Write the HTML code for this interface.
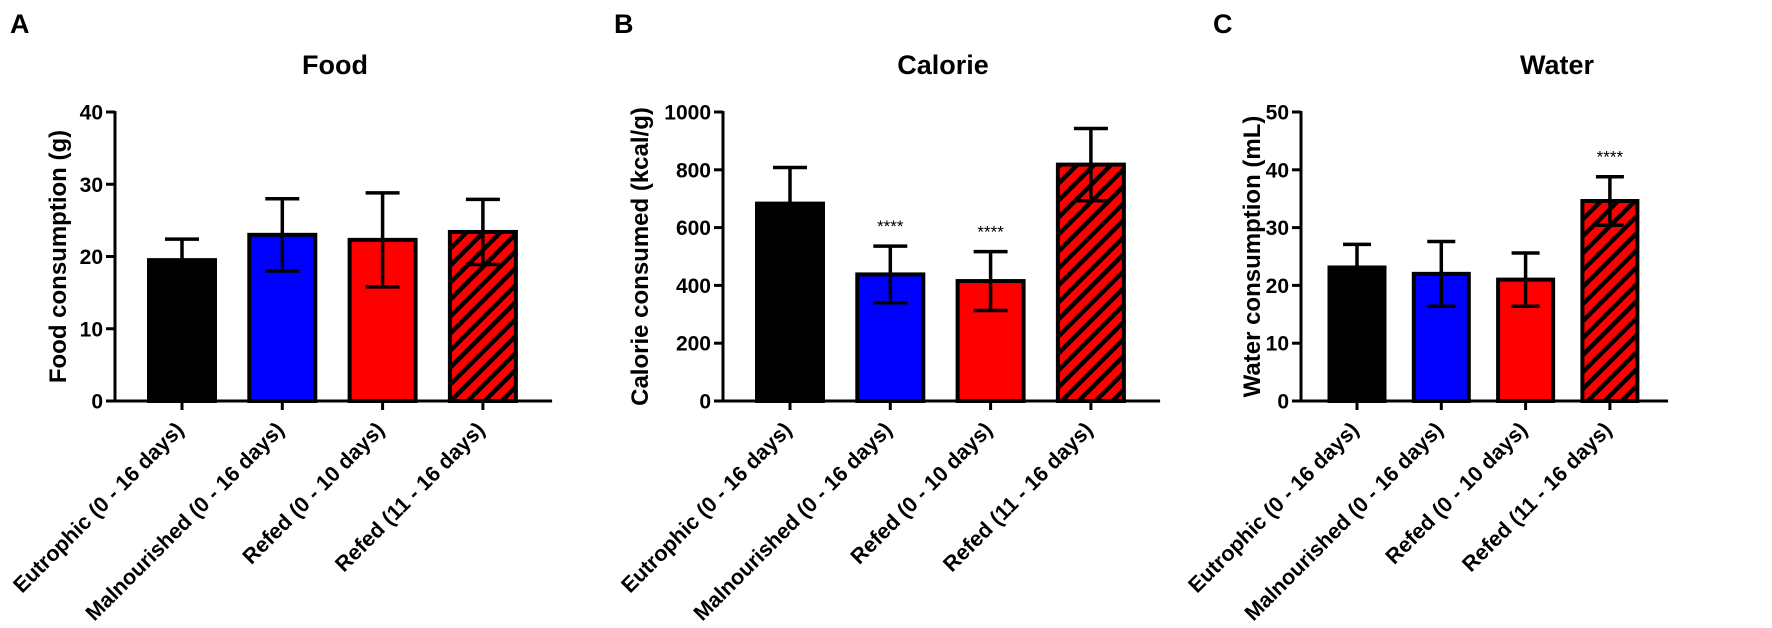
<!DOCTYPE html>
<html><head><meta charset="utf-8"><style>
html,body{margin:0;padding:0;background:#fff;}
svg{display:block;font-family:"Liberation Sans",Arial,sans-serif;}
</style></head><body>
<svg id="chart" width="1772" height="628" viewBox="0 0 1772 628" xmlns="http://www.w3.org/2000/svg">
<defs>
<pattern id="hatch" patternUnits="userSpaceOnUse" width="12" height="12" patternTransform="rotate(45)">
<rect width="12" height="12" fill="#ff0000"/>
<rect x="0" y="0" width="4.5" height="12" fill="#000"/>
</pattern>
</defs>
</svg>
<script>
const categories = ["Eutrophic (0 - 16 days)", "Malnourished (0 - 16 days)", "Refed (0 - 10 days)", "Refed (11 - 16 days)"];
const foodMeans = [19.5, 23.0, 22.3, 23.4];
const foodErr = [2.9, 5.0, 6.5, 4.5];
const foodStars = ["", "", "", ""];
const foodTicks = [0, 10, 20, 30, 40];
const calMeans = [683, 438, 415, 818];
const calErr = [125, 98, 102, 125];
const calStars = ["", "****", "****", ""];
const calTicks = [0, 200, 400, 600, 800, 1000];
const waterMeans = [23.1, 22.0, 21.0, 34.6];
const waterErr = [4.0, 5.6, 4.6, 4.2];
const waterStars = ["", "", "", "****"];
const waterTicks = [0, 10, 20, 30, 40, 50];

const NS = "http://www.w3.org/2000/svg";
const svg = document.getElementById('chart');
const fills = ["#000000", "#0000ff", "#ff0000", "url(#hatch)"];
function mk(tag, attrs, parent) {
  const e = document.createElementNS(NS, tag);
  for (const k in attrs) e.setAttribute(k, attrs[k]);
  (parent || svg).appendChild(e);
  return e;
}

function panel(p) {
  const g = mk('g', {});
  
  
  const y0 = 401, y1 = 112;
  const maxV = p.ticks[p.ticks.length - 1];
  const yS = v => y0 - (v / maxV) * (y0 - y1);
  const xS = i => p.axisX + p.first + i * p.step;

  const letter = mk('text', {x: p.letterX, y: 33, 'font-size': 27, 'font-weight': 'bold'}, g);
  letter.textContent = p.letter;
  
  

  const title = mk('text', {x: p.titleX, y: 74, 'font-size': 27, 'font-weight': 'bold', 'text-anchor': 'middle'}, g);
  title.textContent = p.title;
  
  

  const yt = mk('text', {x: 0, y: 0, 'font-size': 24, 'font-weight': 'bold', 'text-anchor': 'middle',
    transform: `translate(${p.yTitleX},${(y0 + y1) / 2}) rotate(-90)`}, g);
  yt.textContent = p.yTitle;
  
  

  for (let i = 0; i < p.means.length; i++) {
    const cx = xS(i);
    const top = yS(p.means[i]);
    const bar = mk('rect', {x: cx - p.bw / 2 + 2, y: top, width: p.bw - 4, height: y0 - top, fill: fills[i], stroke: '#000', 'stroke-width': 4}, g);
    
    
    const hi = yS(p.means[i] + p.err[i]), lo = yS(p.means[i] - p.err[i]);
    const eb = mk('path', {d: `M${cx},${hi}V${lo}M${cx - p.cap / 2},${hi}H${cx + p.cap / 2}M${cx - p.cap / 2},${lo}H${cx + p.cap / 2}`, stroke: '#000', 'stroke-width': 3.5, fill: 'none'}, g);
    
    
    if (p.stars[i]) {
      const st = mk('text', {x: cx, y: hi - 14, 'font-size': 17, 'text-anchor': 'middle'}, g);
      st.textContent = p.stars[i];
      
      
    }
    const tk = mk('line', {x1: cx, x2: cx, y1: y0, y2: y0 + 9, stroke: '#000', 'stroke-width': 3}, g);
    
    
    const lab = mk('text', {x: 0, y: 0, 'font-size': 21.5, 'font-weight': 'bold', 'text-anchor': 'end',
      transform: `translate(${cx + 3},${y0 + 30}) rotate(-45)`}, g);
    lab.textContent = categories[i];
    
    
  }
  const ya = mk('line', {x1: p.axisX, x2: p.axisX, y1: y1 - 1, y2: y0 + 1.5, stroke: '#000', 'stroke-width': 3}, g);
  
  
  const xa = mk('line', {x1: p.axisX - 1.5, x2: xS(p.means.length - 1) + p.step * 0.69, y1: y0, y2: y0, stroke: '#000', 'stroke-width': 3}, g);
  
  
  for (const t of p.ticks) {
    const y = yS(t);
    const tl = mk('line', {x1: p.axisX - 9, x2: p.axisX, y1: y, y2: y, stroke: '#000', 'stroke-width': 3}, g);
    
    
    const tx = mk('text', {x: p.axisX - 12, y: y + 7.5, 'font-size': 21, 'font-weight': 'bold', 'text-anchor': 'end'}, g);
    tx.textContent = t;
    
    
  }
}

panel({key: 'food', letter: 'A', letterX: 10, title: 'Food', titleX: 335, yTitle: 'Food consumption (g)', yTitleX: 66,
  axisX: 115, first: 67, step: 100.3, bw: 70, cap: 34, means: foodMeans, err: foodErr, stars: foodStars, ticks: foodTicks});
panel({key: 'calorie', letter: 'B', letterX: 614, title: 'Calorie', titleX: 943, yTitle: 'Calorie consumed (kcal/g)', yTitleX: 648,
  axisX: 723, first: 67, step: 100.3, bw: 70, cap: 34, means: calMeans, err: calErr, stars: calStars, ticks: calTicks});
panel({key: 'water', letter: 'C', letterX: 1213, title: 'Water', titleX: 1557, yTitle: 'Water consumption (mL)', yTitleX: 1260,
  axisX: 1301, first: 56, step: 84.3, bw: 59, cap: 28, means: waterMeans, err: waterErr, stars: waterStars, ticks: waterTicks});
</script>
</body></html>
